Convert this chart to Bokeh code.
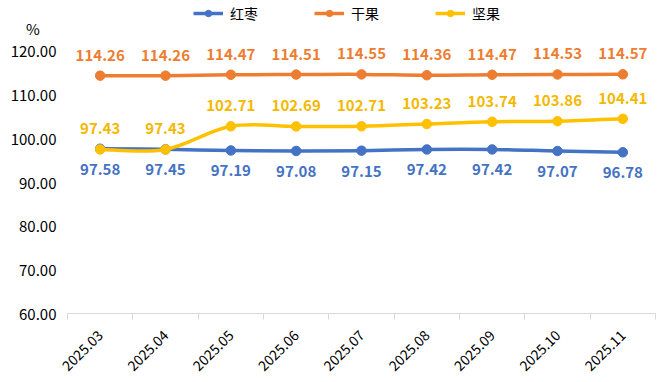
import math
from bokeh.plotting import figure
from bokeh.models import (Range1d, FixedTicker, NumeralTickFormatter, Legend, LegendItem,
                          ColumnDataSource)
from bokeh.core.properties import value
from bokeh.embed import file_html
from bokeh.resources import INLINE

months = ["2025.03", "2025.04", "2025.05", "2025.06", "2025.07", "2025.08", "2025.09", "2025.10", "2025.11"]
hongzao = [97.58, 97.45, 97.19, 97.08, 97.15, 97.42, 97.42, 97.07, 96.78]
ganguo = [114.26, 114.26, 114.47, 114.51, 114.55, 114.36, 114.47, 114.53, 114.57]
jianguo = [97.43, 97.43, 102.71, 102.69, 102.71, 103.23, 103.74, 103.86, 104.41]
y_ticks = [60, 70, 80, 90, 100, 110, 120]
unit_label = "%"
unit_pos = 125

series = [
    ("红枣", hongzao, "#4472C4", "#4472C4", "below"),
    ("干果", ganguo, "#ED7D31", "#ED7D31", "above"),
    ("坚果", jianguo, "#FFC000", "#F5B800", "above"),
]

FONT = "Noto Sans CJK SC"

W, H = 664, 378
FL, FR, FT, FB = 67, 655, 2, 313   # frame edges in canvas px
px_per_unit = (313 - 50) / 60.0
y_top = 120 + (50 - FT) / px_per_unit

p = figure(width=W, height=H, output_backend="svg", toolbar_location=None,
           x_range=Range1d(0, len(months)), y_range=Range1d(60, y_top),
           min_border_left=FL, min_border_right=W - FR, min_border_top=FT, min_border_bottom=H - FB)
p.outline_line_color = None
p.xgrid.visible = False
p.ygrid.visible = False
p.background_fill_color = "white"

xs = [i + 0.5 for i in range(len(months))]

# x axis
p.xaxis.ticker = FixedTicker(ticks=xs, minor_ticks=list(range(len(months) + 1)))
p.xaxis.major_label_overrides = {x: m for x, m in zip(xs, months)}
p.xaxis.major_tick_line_color = None
p.xaxis.major_tick_out = 0
p.xaxis.major_tick_in = 0
p.xaxis.minor_tick_line_color = "#d9d9d9"
p.xaxis.minor_tick_in = 0
p.xaxis.minor_tick_out = 6
p.xaxis.axis_line_color = "#d9d9d9"
p.xaxis.axis_line_width = 1
p.xaxis.major_label_orientation = math.pi / 4
p.xaxis.major_label_text_font = FONT
p.xaxis.major_label_text_font_size = "14px"
p.xaxis.major_label_text_color = "#000000"
p.xaxis.major_label_standoff = 13

# y axis (unit "%" shown as the top label, shifted left with figure spaces)
p.yaxis.ticker = FixedTicker(ticks=y_ticks + [unit_pos])
p.yaxis.formatter = NumeralTickFormatter(format="0.00")
p.yaxis.major_label_overrides = {unit_pos: unit_label + "\u2007\u2007"}
p.yaxis.axis_line_color = None
p.yaxis.major_tick_line_color = None
p.yaxis.major_tick_out = 0
p.yaxis.major_tick_in = 0
p.yaxis.minor_tick_line_color = None
p.yaxis.major_label_text_font = FONT
p.yaxis.major_label_text_font_size = "15px"
p.yaxis.major_label_text_color = "#000000"
p.yaxis.major_label_standoff = 11


def bezier_segments(xv, yv):
    n = len(xv)
    out = dict(x0=[], y0=[], x1=[], y1=[], cx0=[], cy0=[], cx1=[], cy1=[])
    for i in range(n - 1):
        xm, ym = (xv[i - 1], yv[i - 1]) if i > 0 else (xv[i], yv[i])
        xp2, yp2 = (xv[i + 2], yv[i + 2]) if i + 2 < n else (xv[i + 1], yv[i + 1])
        out["x0"].append(xv[i]); out["y0"].append(yv[i])
        out["x1"].append(xv[i + 1]); out["y1"].append(yv[i + 1])
        out["cx0"].append(xv[i] + (xv[i + 1] - xm) / 6)
        out["cy0"].append(yv[i] + (yv[i + 1] - ym) / 6)
        out["cx1"].append(xv[i + 1] - (xp2 - xv[i]) / 6)
        out["cy1"].append(yv[i + 1] - (yp2 - yv[i]) / 6)
    return out


items = []
for name, vals, color, lab_color, pos in series:
    seg = ColumnDataSource(bezier_segments(xs, vals))
    p.bezier(x0="x0", y0="y0", x1="x1", y1="y1", cx0="cx0", cy0="cy0", cx1="cx1", cy1="cy1",
             source=seg, line_color=color, line_width=3.5)
    sr = p.scatter(xs, vals, size=9.5, fill_color=color, line_color=color)
    items.append((name, sr, color))
    labels = ["%.2f" % v for v in vals]
    src = ColumnDataSource(dict(x=xs, y=vals, t=labels))
    p.text(x="x", y="y", text="t", source=src, text_align="center",
           text_baseline="bottom" if pos == "above" else "top",
           y_offset=-15 if pos == "above" else 15,
           text_font=value(FONT), text_font_size="15px", text_font_style="bold",
           text_color=lab_color)

leg_items = []
for name, sr, color in items:
    vis = p.line([None], [None], line_color=color, line_width=3.5)
    leg_items.append(LegendItem(label=name, renderers=[vis, sr]))

legend = Legend(items=leg_items, orientation="horizontal", location=(126, 290),
                glyph_width=30, glyph_height=16, label_standoff=7, spacing=56,
                padding=0, margin=0, border_line_color=None, background_fill_alpha=0,
                label_text_font=FONT, label_text_font_size="14px", label_text_color="#000000")
p.add_layout(legend, "center")

open("out.html", "w").write(file_html(p, INLINE))
